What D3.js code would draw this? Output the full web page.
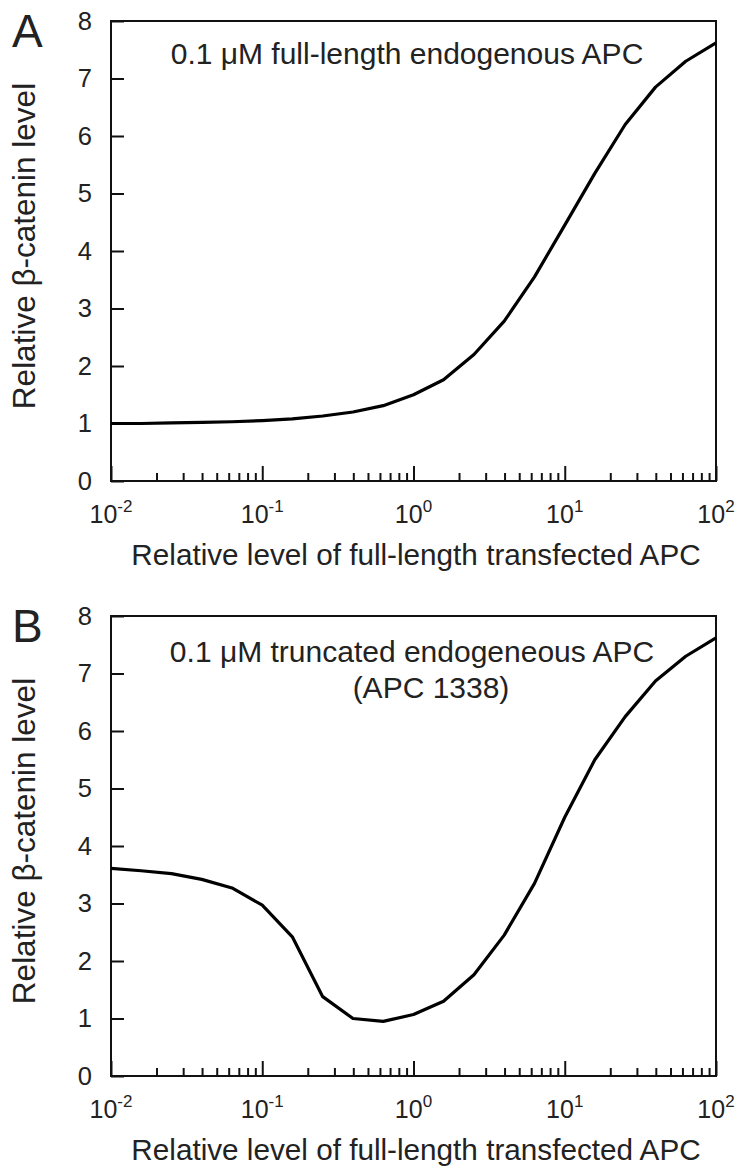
<!DOCTYPE html>
<html>
<head>
<meta charset="utf-8">
<script src="https://cdn.jsdelivr.net/npm/d3@7"></script>
<style>
  body { margin: 0; background: #fff; }
  svg text { font-family: "Liberation Sans", Arial, Helvetica, sans-serif; fill: #222; }
</style>
</head>
<body>
<div id="graphic"></div>
<script>
// Global data
var apcLevels = [0.01, 0.0158, 0.0251, 0.0398, 0.0631, 0.1, 0.158, 0.251, 0.398, 0.631,
  1, 1.58, 2.51, 3.98, 6.31, 10, 15.8, 25.1, 39.8, 63.1, 100];
var betaFullLength = [1.0, 1.0, 1.01, 1.02, 1.03, 1.05, 1.08, 1.13, 1.2, 1.31,
  1.5, 1.76, 2.2, 2.78, 3.55, 4.45, 5.35, 6.2, 6.85, 7.3, 7.62];
var betaTruncated = [3.61, 3.57, 3.52, 3.42, 3.27, 2.97, 2.42, 1.38, 1.0, 0.95,
  1.07, 1.3, 1.76, 2.45, 3.35, 4.5, 5.5, 6.25, 6.87, 7.3, 7.62];
var yTicks = [0, 1, 2, 3, 4, 5, 6, 7, 8];
var xMajorTicks = [0.01, 0.1, 1, 10, 100];
var xTickExponents = ['-2', '-1', '0', '1', '2'];
var xMinorTicks = [0.02, 0.03, 0.04, 0.05, 0.06, 0.07, 0.08, 0.09,
  0.2, 0.3, 0.4, 0.5, 0.6, 0.7, 0.8, 0.9,
  2, 3, 4, 5, 6, 7, 8, 9,
  20, 30, 40, 50, 60, 70, 80, 90];

var WIDTH = 742;
var HEIGHT = 1168;

/*
 * Render the whole figure.
 */
var render = function () {
  var svg = d3.select('#graphic')
    .append('svg')
    .attr('width', WIDTH)
    .attr('height', HEIGHT);

  renderPanel(svg, {
    letter: 'A',
    top: 21,
    values: betaFullLength,
    notes: [{ text: '0.1 \u03bcM full-length endogenous APC', x: 407, y: 64 }]
  });

  renderPanel(svg, {
    letter: 'B',
    top: 616,
    values: betaTruncated,
    notes: [
      { text: '0.1 \u03bcM truncated endogeneous APC', x: 412, y: 662 },
      { text: '(APC 1338)', x: 431, y: 698 }
    ]
  });
};

/*
 * Render one panel.
 */
var renderPanel = function (svg, config) {
  var left = 111;
  var right = 716;
  var chartHeight = 460;
  var top = config.top;
  var bottom = top + chartHeight;

  var x = d3.scaleLog()
    .domain([0.01, 100])
    .range([left, right]);

  var y = d3.scaleLinear()
    .domain([0, 8])
    .range([bottom, top]);

  var g = svg.append('g');

  // minor x ticks
  g.append('g')
    .attr('transform', 'translate(0,' + bottom + ')')
    .call(d3.axisBottom(x).tickValues(xMinorTicks).tickSize(-8).tickFormat(''))
    .call(function (a) { a.select('.domain').remove(); });

  // major x ticks
  g.append('g')
    .attr('transform', 'translate(0,' + bottom + ')')
    .call(d3.axisBottom(x).tickValues(xMajorTicks).tickSize(-15).tickFormat(''))
    .call(function (a) { a.select('.domain').remove(); });

  g.selectAll('.tick line')
    .attr('stroke', '#111')
    .attr('stroke-width', 2);

  // x tick labels with superscripts
  var labels = g.append('g')
    .selectAll('text.xlabel')
    .data(xMajorTicks)
    .enter().append('text')
    .attr('class', 'xlabel')
    .attr('x', function (d) { return x(d); })
    .attr('y', bottom + 42)
    .attr('text-anchor', 'middle')
    .attr('font-size', 25);
  labels.append('tspan').text('10');
  labels.append('tspan')
    .attr('dy', -11)
    .attr('font-size', 17)
    .text(function (d, i) { return xTickExponents[i]; });

  // y axis
  g.append('g')
    .attr('transform', 'translate(' + left + ',0)')
    .call(d3.axisLeft(y).tickValues(yTicks).tickSize(-13).tickPadding(19).tickFormat(d3.format('d')))
    .call(function (a) {
      a.select('.domain').remove();
      a.selectAll('line').attr('stroke', '#111').attr('stroke-width', 2);
      a.selectAll('text')
        .attr('font-size', 25.5)
        .attr('fill', '#222');
    });

  // frame
  g.append('rect')
    .attr('x', left)
    .attr('y', top)
    .attr('width', right - left)
    .attr('height', chartHeight)
    .attr('fill', 'none')
    .attr('stroke', '#111')
    .attr('stroke-width', 2);

  // curve
  var line = d3.line()
    .x(function (d, i) { return x(apcLevels[i]); })
    .y(function (d) { return y(d); });

  g.append('path')
    .datum(config.values)
    .attr('d', line)
    .attr('fill', 'none')
    .attr('stroke', '#000')
    .attr('stroke-width', 3.2)
    .attr('stroke-linejoin', 'round');

  // annotations
  config.notes.forEach(function (n) {
    g.append('text')
      .attr('x', n.x)
      .attr('y', n.y)
      .attr('text-anchor', 'middle')
      .attr('font-size', 30)
      .text(n.text);
  });

  // axis titles
  g.append('text')
    .attr('x', 416)
    .attr('y', bottom + 84)
    .attr('text-anchor', 'middle')
    .attr('font-size', 29.7)
    .text('Relative level of full-length transfected APC');

  g.append('text')
    .attr('transform', 'translate(35,' + ((top + bottom) / 2 - 5) + ') rotate(-90)')
    .attr('text-anchor', 'middle')
    .attr('font-size', 31.5)
    .text('Relative \u03b2-catenin level');

  // panel letter
  g.append('text')
    .attr('x', 12)
    .attr('y', top + 26)
    .attr('font-size', 46)
    .attr('fill', '#000')
    .text(config.letter);
};

window.onload = render;
</script>
</body>
</html>
